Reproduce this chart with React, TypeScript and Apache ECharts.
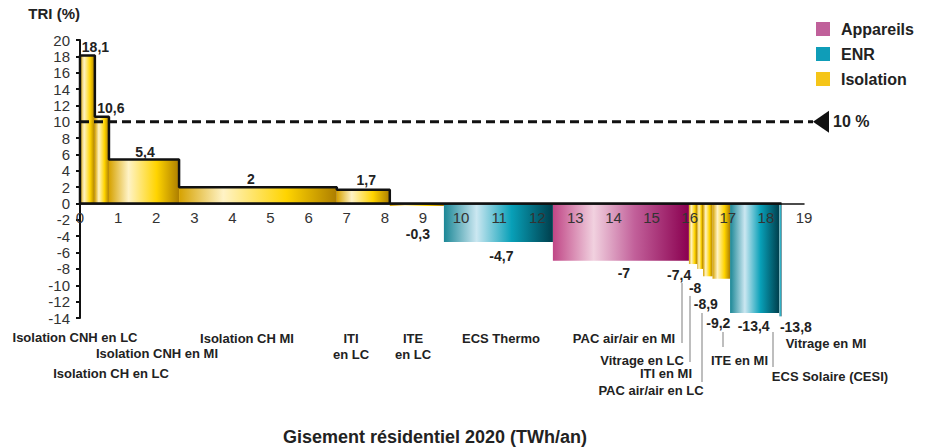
import React, { useEffect, useRef } from "react";
import * as echarts from "echarts";

// ---- data ----
const categories = [
  "Isolation CNH en LC",
  "Isolation CNH en MI",
  "Isolation CH en LC",
  "Isolation CH MI",
  "ITI en LC",
  "ITE en LC",
  "ECS Thermo",
  "PAC air/air en MI",
  "Vitrage en LC",
  "ITI en MI",
  "PAC air/air en LC",
  "ITE en MI",
  "ECS Solaire (CESI)",
  "Vitrage en MI",
];
const groups = [
  "Isolation", "Isolation", "Isolation", "Isolation", "Isolation", "Isolation",
  "ENR", "Appareils", "Isolation", "Isolation", "Isolation", "Isolation", "ENR", "ENR",
];
// gisement (TWh/an) = bar widths
const widths = [0.39, 0.37, 1.84, 4.14, 1.39, 1.42, 2.86, 3.57, 0.22, 0.15, 0.25, 0.46, 1.29, 0.06];
// TRI (%)
const values = [18.1, 10.6, 5.4, 2, 1.7, -0.3, -4.7, -7, -7.4, -8, -8.9, -9.2, -13.4, -13.8];
const xTickLabels = ["0", "1", "2", "3", "4", "5", "6", "7", "8", "9", "10", "11", "12", "13", "14", "15", "16", "17", "18", "19"];
const groupNames = ["Appareils", "ENR", "Isolation"];
const threshold = 10;

// ---- styles / layout ----
const FONT = "'Liberation Sans', Arial, Helvetica, sans-serif";
const legendColors: Record<string, string> = {
  Appareils: "#c0609a",
  ENR: "#0f9db8",
  Isolation: "#f5c518",
};
const gradientStops: Record<string, [number, string][]> = {
  Isolation: [[0, "#d6a200"], [0.28, "#fff3c6"], [0.68, "#ffd400"], [1, "#ad7e00"]],
  ENR: [[0, "#1b8796"], [0.3, "#cbe7f1"], [0.62, "#08a0b8"], [1, "#003e4c"]],
  Appareils: [[0, "#c04686"], [0.3, "#f1d1df"], [0.6, "#c2609a"], [1, "#8a0050"]],
};
// value label offsets (px) from (bar centre, bar end)
const labelOffsets = [
  [8, -9], [9, -9], [1, -7], [-7, -8], [3, -10], [1, 28], [3, 14],
  [3, 12], [-14, 11], [-5, 19], [-2, 28], [-3, 44], [-1, 12.5], [15.5, 11],
];
// category label positions (px)
const catLabelPos: [string, number, number][] = [
  ["Isolation CNH en LC", 75, 337],
  ["Isolation CNH en MI", 157, 353],
  ["Isolation CH en LC", 111, 373],
  ["Isolation CH MI", 247, 338],
  ["ITI\nen LC", 351, 346],
  ["ITE\nen LC", 413, 346],
  ["ECS Thermo", 501, 338],
  ["PAC air/air en MI", 624, 338],
  ["Vitrage en LC", 642, 360],
  ["ITI en MI", 666, 373],
  ["PAC air/air en LC", 651, 390],
  ["ITE en MI", 739.5, 360],
  ["ECS Solaire (CESI)", 830, 376],
  ["Vitrage en MI", 826, 343],
];
const leaderLines = [
  [682, 283, 343],
  [690, 294, 362],
  [702, 313, 382],
  [723, 332, 347],
  [773, 332, 367],
];

const starts: number[] = [];
{
  let acc = 0;
  widths.forEach((w) => {
    starts.push(acc);
    acc += w;
  });
}
const totalEnd = starts[starts.length - 1] + widths[widths.length - 1];

function fmt(v: number) {
  return String(v).replace(".", ",");
}

export default function App() {
  const ref = useRef<HTMLDivElement>(null);

  useEffect(() => {
    if (!ref.current) return;
    const chart = echarts.init(ref.current, null, { renderer: "svg" });

    const barSeries = groupNames.map((g) => ({
      type: "custom",
      name: g,
      z: 2,
      itemStyle: { color: legendColors[g] },
      encode: { x: [0, 1], y: 2 },
      data: values
        .map((v, i) => [starts[i], starts[i] + widths[i], v, i])
        .filter((d) => groups[d[3] as number] === g),
      renderItem: (params: any, api: any) => {
        const x0 = api.value(0);
        const x1 = api.value(1);
        const v = api.value(2);
        const p0 = api.coord([x0, 0]);
        const p1 = api.coord([x1, v]);
        return {
          type: "rect",
          shape: {
            x: p0[0],
            y: Math.min(p0[1], p1[1]),
            width: Math.max(p1[0] - p0[0], 1),
            height: Math.abs(p1[1] - p0[1]),
          },
          style: {
            fill: new echarts.graphic.LinearGradient(
              0, 0, 1, 0,
              gradientStops[g].map(([o, c]) => ({ offset: o, color: c }))
            ),
          },
        };
      },
    }));

    // outline of positive bars + thick zero line
    const outline: number[][] = [[totalEnd, 0], [0, 0]];
    let lastPos = 0;
    values.forEach((v, i) => {
      if (v > 0) {
        outline.push([starts[i], v], [starts[i] + widths[i], v]);
        lastPos = starts[i] + widths[i];
      }
    });
    outline.push([lastPos, 0]);

    const option: any = {
      animation: false,
      grid: { left: 80, right: 121, top: 40, bottom: 129, containLabel: false, outerBoundsMode: "none" },
      title: {
        text: "Gisement résidentiel 2020 (TWh/an)",
        left: 283,
        top: 428,
        padding: 0,
        textStyle: { fontFamily: FONT, fontWeight: "bold", fontSize: 18, color: "#222" },
      },
      legend: {
        data: groupNames,
        orient: "vertical",
        left: 816,
        top: 21,
        padding: 0,
        icon: "rect",
        itemWidth: 14,
        itemHeight: 14,
        itemGap: 9,
        textStyle: { fontFamily: FONT, fontWeight: "bold", fontSize: 16, color: "#222", padding: [0, 0, 0, 6] },
      },
      xAxis: {
        type: "value",
        min: 0,
        max: 19,
        interval: 1,
        z: 10,
        axisLine: { onZero: true, lineStyle: { color: "#111", width: 1.5 } },
        axisTick: { show: false },
        splitLine: { show: false },
        axisLabel: { show: false },
      },
      yAxis: {
        type: "value",
        min: -14,
        max: 20,
        interval: 2,
        name: "TRI (%)",
        nameLocation: "end",
        nameGap: 19,
        nameTextStyle: { align: "right", fontFamily: FONT, fontWeight: "bold", fontSize: 15, color: "#222" },
        axisLine: { show: true, onZero: false, lineStyle: { color: "#111", width: 2 } },
        axisTick: { show: true, length: 4, lineStyle: { color: "#111", width: 2 } },
        splitLine: { show: false },
        axisLabel: { color: "#333", fontSize: 15, fontFamily: FONT, margin: 10 },
      },
      series: [
        ...barSeries,
        {
          type: "line",
          name: "outline",
          z: 4,
          silent: true,
          symbol: "none",
          data: outline,
          lineStyle: { color: "#111", width: 2.5 },
        },
        {
          type: "custom",
          name: "xticks",
          z: 5,
          silent: true,
          encode: { x: 0, y: 1 },
          data: xTickLabels.map((t) => [Number(t), 0]),
          renderItem: (params: any, api: any) => {
            const p = api.coord([api.value(0), 0]);
            return {
              type: "text",
              x: p[0],
              y: p[1] + 6,
              style: {
                text: xTickLabels[params.dataIndex],
                fill: "#333",
                font: `15px ${FONT}`,
                align: "center",
                verticalAlign: "top",
              },
            };
          },
        },
        {
          type: "custom",
          name: "labels",
          z: 6,
          silent: true,
          encode: { x: 0, y: 1 },
          data: values.map((v, i) => [starts[i] + widths[i] / 2, v, i]),
          renderItem: (params: any, api: any) => {
            const i = api.value(2);
            const p = api.coord([api.value(0), api.value(1)]);
            const off = labelOffsets[i];
            return {
              type: "text",
              x: p[0] + off[0],
              y: p[1] + off[1],
              style: {
                text: fmt(values[i]),
                fill: "#222",
                font: `bold 14px ${FONT}`,
                align: "center",
                verticalAlign: "middle",
                backgroundColor: values[i] < 0 ? "#fff" : "transparent",
                padding: [1, 2, 1, 2],
              },
            };
          },
        },
      ],
    };
    chart.setOption(option);

    const p0 = chart.convertToPixel({ gridIndex: 0 }, [0, threshold]) as number[];
    const yT = p0[1];
    const lineEnd = 813;
    const graphic: any[] = [
      {
        type: "line",
        z: 5,
        shape: { x1: p0[0], y1: yT, x2: lineEnd, y2: yT },
        style: { stroke: "#111", lineWidth: 3, lineDash: [9, 5] },
      },
      {
        type: "polygon",
        z: 5,
        shape: { points: [[lineEnd, yT], [829, yT - 11], [829, yT + 11]] },
        style: { fill: "#111" },
      },
      {
        type: "text",
        z: 5,
        x: 833,
        y: yT,
        style: {
          text: "10 %",
          fill: "#222",
          font: `bold 16px ${FONT}`,
          align: "left",
          verticalAlign: "middle",
        },
      },
      ...leaderLines.map(([x, y1, y2]) => ({
        type: "line",
        z: 5,
        shape: { x1: x, y1, x2: x, y2 },
        style: { stroke: "#a8a8a8", lineWidth: 1.5 },
      })),
      ...catLabelPos.map(([t, x, y]) => ({
        type: "text",
        z: 5,
        x,
        y,
        style: {
          text: t,
          fill: "#222",
          font: `bold 13px ${FONT}`,
          align: "center",
          verticalAlign: "middle",
          lineHeight: 16,
        },
      })),
    ];
    chart.setOption({ graphic });

    return () => chart.dispose();
  }, []);

  return (
    <div
      ref={ref}
      style={{ position: "absolute", left: 0, top: 0, width: 925, height: 447 }}
    />
  );
}
